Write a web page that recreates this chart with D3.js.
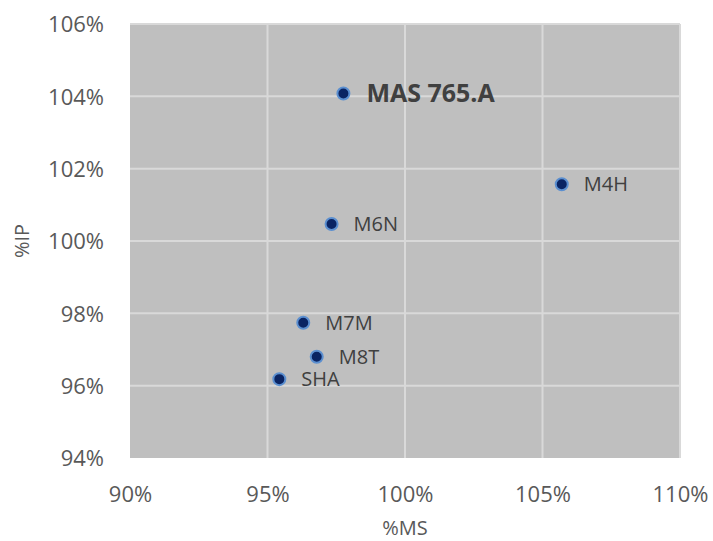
<!DOCTYPE html>
<html>
<head>
<meta charset="utf-8">
<script src="https://cdn.jsdelivr.net/npm/d3@7"></script>
<style>
  body { margin: 0; background: #fff; }
  text { font-family: "Open Sans", sans-serif; }
</style>
</head>
<body>
<svg width="713" height="541"></svg>
<script>
// points (ratios, 1 = 100%)
const names = ["MAS 765.A", "M4H", "M6N", "M7M", "M8T", "SHA"];
const msValues = [0.9776, 1.0570, 0.9733, 0.9630, 0.9679, 0.9543];
const ipValues = [1.0408, 1.0157, 1.0047, 0.9774, 0.9680, 0.9618];
const xTicks = [0.90, 0.95, 1.00, 1.05, 1.10];
const yTicks = [0.94, 0.96, 0.98, 1.00, 1.02, 1.04, 1.06];

const plotLeft = 130, plotTop = 24, plotRight = 680, plotBottom = 458;

const svg = d3.select("svg");

const x = d3.scaleLinear()
  .domain([0.90, 1.10])
  .range([plotLeft, plotRight]);

const y = d3.scaleLinear()
  .domain([0.94, 1.06])
  .range([plotBottom, plotTop]);

const pct = d3.format(".0%");

// plot background
svg.append("rect")
  .attr("x", plotLeft)
  .attr("y", plotTop)
  .attr("width", plotRight - plotLeft)
  .attr("height", plotBottom - plotTop)
  .attr("fill", "#bfbfbf");

// grid
svg.append("g")
  .selectAll("line")
  .data(xTicks.slice(1))
  .join("line")
    .attr("x1", d => x(d)).attr("x2", d => x(d))
    .attr("y1", plotTop).attr("y2", plotBottom)
    .attr("stroke", "#d9d9d9")
    .attr("stroke-width", 2);

svg.append("g")
  .selectAll("line")
  .data(yTicks.slice(1))
  .join("line")
    .attr("x1", plotLeft).attr("x2", plotRight)
    .attr("y1", d => y(d)).attr("y2", d => y(d))
    .attr("stroke", "#d9d9d9")
    .attr("stroke-width", 2);

// x axis labels
const xAxis = d3.axisBottom(x).tickValues(xTicks).tickFormat(pct).tickSize(0).tickPadding(0);
svg.append("g")
  .attr("transform", `translate(0, ${plotBottom})`)
  .call(xAxis)
  .call(g => g.select(".domain").remove())
  .selectAll("text")
    .attr("y", 44)
    .attr("dy", null)
    .attr("font-size", "22px")
    .attr("font-family", "Open Sans, sans-serif")
    .attr("fill", "#595959");

// y axis labels
const yAxis = d3.axisLeft(y).tickValues(yTicks).tickFormat(pct).tickSize(0).tickPadding(26);
svg.append("g")
  .attr("transform", `translate(${plotLeft}, 0)`)
  .call(yAxis)
  .call(g => g.select(".domain").remove())
  .selectAll("text")
    .attr("dy", "0.35em")
    .attr("font-size", "22px")
    .attr("font-family", "Open Sans, sans-serif")
    .attr("fill", "#595959");

// axis titles
svg.append("text")
  .attr("x", (plotLeft + plotRight) / 2)
  .attr("y", 535)
  .attr("text-anchor", "middle")
  .attr("font-size", "20px")
  .attr("fill", "#595959")
  .text("%MS");

svg.append("text")
  .attr("transform", `translate(29, ${(plotTop + plotBottom) / 2}) rotate(-90)`)
  .attr("text-anchor", "middle")
  .attr("font-size", "20px")
  .attr("fill", "#595959")
  .text("%IP");

// points
const data = names.map((n, i) => ({name: n, ms: msValues[i], ip: ipValues[i]}));

svg.append("g")
  .selectAll("circle")
  .data(data)
  .join("circle")
    .attr("cx", d => x(d.ms))
    .attr("cy", d => y(d.ip))
    .attr("r", 6)
    .attr("fill", "#0a2463")
    .attr("stroke", "#5b8fd0")
    .attr("stroke-width", 2);

svg.append("g")
  .selectAll("text")
  .data(data)
  .join("text")
    .attr("x", d => x(d.ms) + (d.name === "MAS 765.A" ? 23 : 22))
    .attr("y", d => y(d.ip))
    .attr("dy", "0.36em")
    .attr("font-size", d => d.name === "MAS 765.A" ? "25px" : "20px")
    .attr("font-weight", d => d.name === "MAS 765.A" ? "bold" : "normal")
    .attr("fill", "#404040")
    .text(d => d.name);
</script>
</body>
</html>
